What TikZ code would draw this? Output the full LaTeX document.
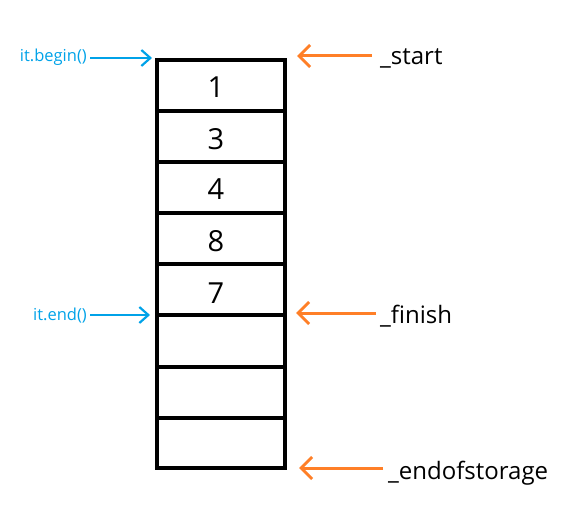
\documentclass[tikz,border=0pt]{standalone}
\usepackage{fontspec}
\setmainfont{Open Sans}
\usetikzlibrary{arrows.meta}
\definecolor{ptrblue}{HTML}{00A2E8}
\definecolor{ptrorange}{HTML}{FF7F27}
\tikzset{
  cell/.style={draw=black, line width=4.5pt, minimum width=128pt, inner sep=0pt},
  digit/.style={inner sep=0pt, font=\fontsize{29}{29}\selectfont},
  itlabel/.style={text=ptrblue, inner sep=0pt, font=\fontsize{16.5}{16.5}\selectfont},
  ptrlabel/.style={text=black, inner sep=0pt, font=\fontsize{24}{24}\selectfont},
  itarrow/.style={draw=ptrblue, line width=2.2pt, -{Straight Barb[length=9pt,width=16pt,line width=2.2pt]}},
  ptrarrow/.style={draw=ptrorange, line width=3pt, -{Straight Barb[length=11pt,width=22pt,line width=3pt]}}
}
\begin{document}
\begin{tikzpicture}[x=1pt,y=-1pt]
\useasboundingbox (0,0) rectangle (574,527);
% cells
\node[cell, minimum height=51pt] (c1) at (221,85.5) {};
\node[cell, minimum height=51pt] (c2) at (221,136.5) {};
\node[cell, minimum height=51pt] (c3) at (221,187.5) {};
\node[cell, minimum height=51pt] (c4) at (221,238.5) {};
\node[cell, minimum height=51pt] (c5) at (221,289.5) {};
\node[cell, minimum height=52pt] (c6) at (221,341) {};
\node[cell, minimum height=51pt] (c7) at (221,392.5) {};
\node[cell, minimum height=50pt] (c8) at (221,443) {};
% values
\node[digit] (d1) at (216,87) {1};
\node[digit] (d2) at (216,139.5) {3};
\node[digit] (d3) at (216,189) {4};
\node[digit] (d4) at (216,241.5) {8};
\node[digit] (d5) at (216,293.5) {7};
% iterator labels
\node[itlabel, anchor=base east] (ib) at (87,62) {it.begin()};
\node[itlabel, anchor=base east] (ie) at (87,320) {it.end()};
\coordinate (ibt) at (152,58);
\coordinate (iet) at (150,315);
\draw[itarrow] (ib.east |- ibt) ++(3,0) -- (ibt);
\draw[itarrow] (ie.east |- iet) ++(3,0) -- (iet);
% pointer labels
\node[ptrlabel, anchor=base west] (ps) at (380,65) {\_start};
\node[ptrlabel, anchor=base west] (pf) at (380,323) {\_finish};
\node[ptrlabel, anchor=base west] (pe) at (388,479) {\_endofstorage};
\coordinate (pst) at (297,56);
\coordinate (pft) at (296,313);
\coordinate (pet) at (299,468);
\coordinate (pss) at (372,56);
\coordinate (pfs) at (376,313);
\coordinate (pes) at (383,468);
\draw[ptrarrow] (pss) -- (pst);
\draw[ptrarrow] (pfs) -- (pft);
\draw[ptrarrow] (pes) -- (pet);
\end{tikzpicture}
\end{document}
